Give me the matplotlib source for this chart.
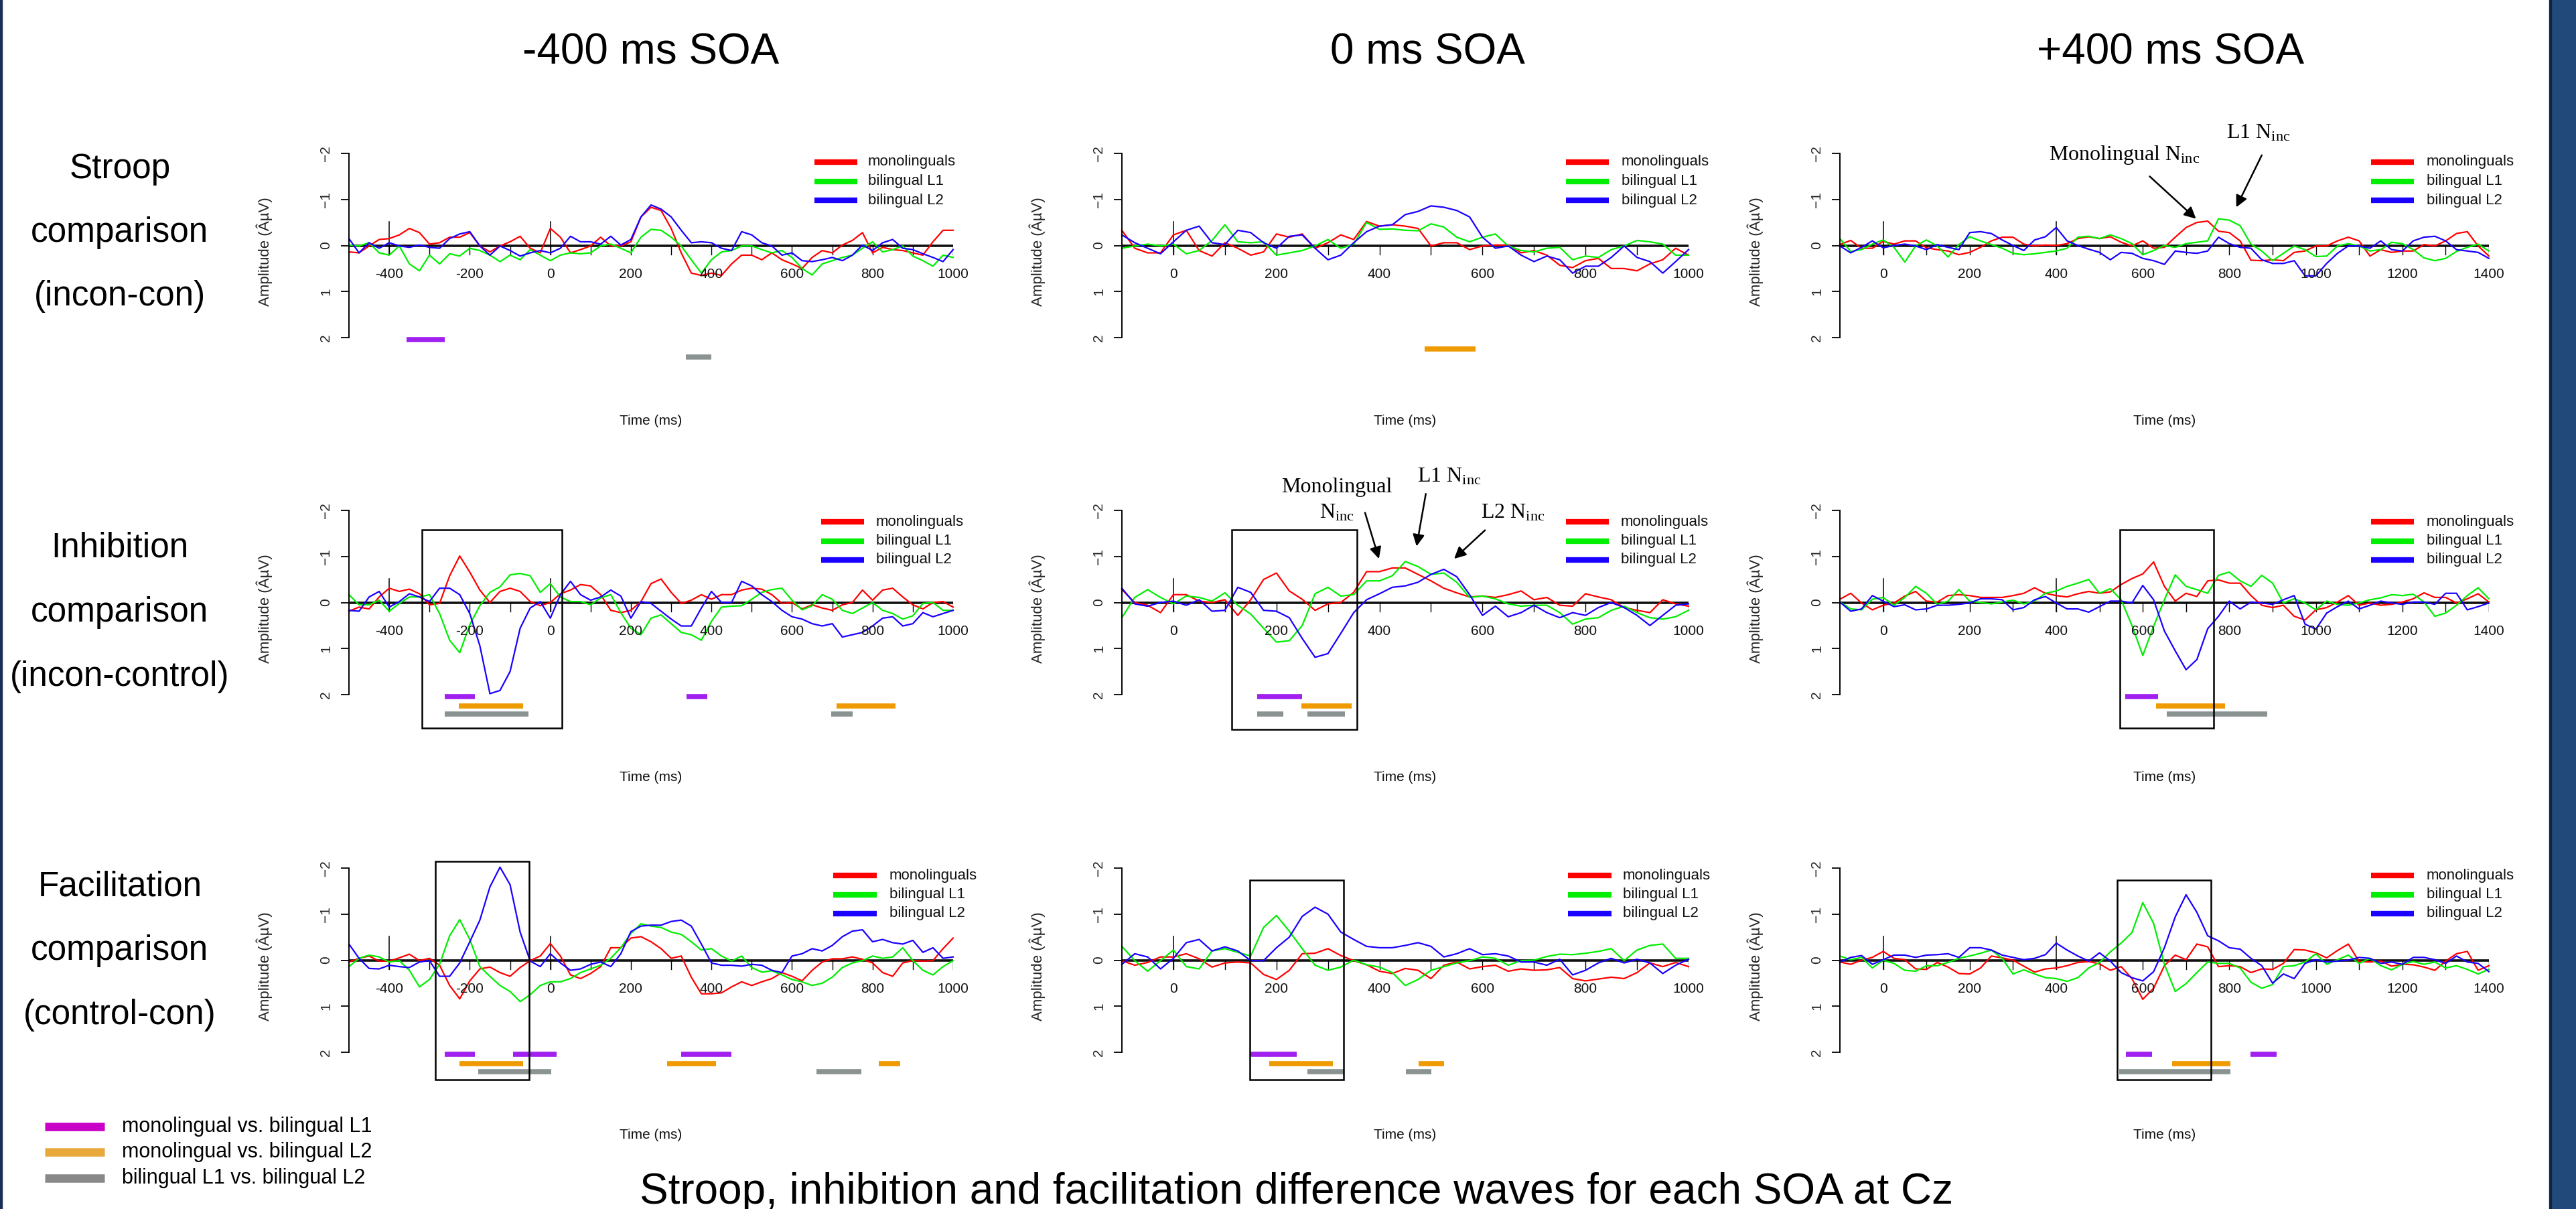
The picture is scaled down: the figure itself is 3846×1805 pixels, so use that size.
import numpy as np
import matplotlib
matplotlib.use('Agg')
import matplotlib.pyplot as plt
from matplotlib.patches import Rectangle

plt.rcParams['font.family'] = ['Liberation Sans', 'DejaVu Sans']
plt.rcParams['mathtext.fontset'] = 'custom'
plt.rcParams['mathtext.rm'] = 'Liberation Serif'
plt.rcParams['mathtext.it'] = 'Liberation Serif:italic'

# ---------------- data ----------------
col_titles = ['-400 ms SOA', '0 ms SOA', '+400 ms SOA']
row_titles = [['Stroop', 'comparison', '(incon-con)'],
              ['Inhibition', 'comparison', '(incon-control)'],
              ['Facilitation', 'comparison', '(control-con)']]
group_names = ['monolinguals', 'bilingual L1', 'bilingual L2']
comparison_names = ['monolingual vs. bilingual L1', 'monolingual vs. bilingual L2',
                    'bilingual L1 vs. bilingual L2']
caption = 'Stroop, inhibition and facilitation difference waves for each SOA at Cz'

time_m400 = np.arange(-500, 1001, 25)
time_0 = np.arange(-100, 1001, 25)
time_p400 = np.arange(-100, 1401, 25)

xtick_m400 = [-400, -200, 0, 200, 400, 600, 800, 1000]
xtick_0 = [0, 200, 400, 600, 800, 1000]
xtick_p400 = [0, 200, 400, 600, 800, 1000, 1200, 1400]
xticklab_m400 = ['-400', '-200', '0', '200', '400', '600', '800', '1000']
xticklab_0 = ['0', '200', '400', '600', '800', '1000']
xticklab_p400 = ['0', '200', '400', '600', '800', '1000', '1200', '1400']
ytick_vals = [-2, -1, 0, 1, 2]
ytick_labels = ['\u22122', '\u22121', '0', '1', '2']

# Stroop (incon-con)
stroop_m400_mono = [0.14, 0.16, 0.01, -0.13, -0.15, -0.23, -0.37, -0.28, -0.03, -0.06,
                    -0.18, -0.18, -0.28, 0.01, 0.14, 0.01, -0.08, -0.2, 0.06, 0.16,
                    -0.37, -0.18, 0.16, 0.09, 0.01, -0.18, 0.01, 0.01, -0.08, -0.62,
                    -0.83, -0.76, -0.37, 0.16, 0.6, 0.65, 0.6, 0.65, 0.4, 0.21,
                    0.21, 0.31, 0.16, 0.31, 0.4, 0.5, 0.26, 0.11, 0.16, -0.01,
                    -0.11, -0.28, 0.16, 0.04, 0.09, 0.11, 0.16, 0.21, -0.08, -0.33,
                    -0.33]
stroop_m400_L1 = [-0.01, 0.01, -0.06, 0.16, 0.21, 0.01, 0.4, 0.55, 0.21, 0.4,
                  0.18, 0.23, 0.06, 0.11, 0.21, 0.35, 0.21, 0.31, 0.09, 0.21,
                  0.33, 0.21, 0.16, 0.18, 0.16, 0.01, -0.03, 0.06, 0.16, -0.18,
                  -0.35, -0.33, -0.18, 0.01, 0.31, 0.6, 0.31, 0.14, 0.11, 0.01,
                  0.01, 0.09, 0.16, 0.11, 0.26, 0.5, 0.64, 0.4, 0.33, 0.26,
                  0.21, 0.06, -0.08, 0.14, 0.09, 0.01, 0.23, 0.33, 0.45, 0.21,
                  0.26]
stroop_m400_L2 = [-0.15, 0.16, -0.06, 0.06, -0.06, 0.01, 0.04, -0.01, 0.04, 0.06,
                  -0.15, -0.25, -0.3, 0.01, 0.21, 0.01, 0.11, 0.23, 0.16, 0.11,
                  0.16, 0.06, -0.2, -0.08, -0.08, -0.03, -0.2, -0.01, -0.13, -0.62,
                  -0.88, -0.79, -0.62, -0.33, -0.06, -0.08, -0.06, 0.06, 0.11, -0.3,
                  -0.23, -0.06, 0.01, 0.21, 0.16, 0.33, 0.35, 0.31, 0.26, 0.33,
                  0.21, -0.01, 0.11, -0.06, -0.13, 0.06, 0.09, 0.18, 0.26, 0.35,
                  0.09]
stroop_0_mono = [-0.33, 0.06, 0.16, 0.16, -0.23, -0.33, 0.11, 0.23, -0.06, 0.06,
                 0.21, 0.14, -0.25, -0.18, -0.25, 0.06, -0.06, -0.23, -0.13, -0.52,
                 -0.42, -0.45, -0.42, -0.37, 0.01, -0.06, -0.06, 0.09, 0.01, -0.01,
                 -0.01, 0.16, 0.11, 0.21, 0.43, 0.48, 0.33, 0.28, 0.5, 0.5,
                 0.55, 0.4, 0.31, 0.06, 0.21]
stroop_0_L1 = [0.06, 0.01, -0.03, 0.01, -0.03, 0.18, 0.11, -0.11, -0.45, -0.08,
               -0.06, -0.08, 0.21, 0.16, 0.11, 0.01, -0.13, 0.06, -0.03, -0.5,
               -0.35, -0.36, -0.33, -0.32, -0.47, -0.4, -0.18, -0.08, -0.18, -0.25,
               0.01, 0.11, 0.14, 0.06, 0.04, 0.31, 0.23, 0.26, 0.09, 0.01,
               -0.11, -0.08, -0.03, 0.21, 0.21]
stroop_0_L2 = [-0.23, -0.06, 0.06, 0.18, -0.08, -0.33, -0.42, -0.06, -0.02, -0.33,
               -0.28, -0.06, 0.06, -0.2, -0.23, 0.06, 0.31, 0.21, -0.06, -0.3,
               -0.42, -0.45, -0.67, -0.74, -0.86, -0.83, -0.76, -0.62, -0.18, 0.06,
               0.01, 0.21, 0.35, 0.23, 0.31, 0.6, 0.45, 0.45, 0.26, 0.01,
               0.26, 0.35, 0.6, 0.35, 0.09]
stroop_p400_mono = [-0.02, -0.11, 0.06, 0.06, -0.09, -0.03, -0.1, -0.1, 0.05, 0.09,
                    0.12, 0.2, 0.15, 0.04, -0.1, -0.18, -0.18, -0.03, 0.01, -0.01,
                    0.0, -0.04, -0.15, -0.19, -0.15, -0.19, -0.07, 0.01, -0.1, 0.06,
                    0.04, -0.18, -0.39, -0.5, -0.53, -0.31, -0.28, -0.1, 0.32, 0.33,
                    0.31, 0.33, 0.15, 0.12, 0.01, 0.01, -0.1, -0.18, -0.1, 0.23,
                    0.09, 0.15, 0.12, 0.12, -0.02, 0.01, -0.1, -0.26, -0.3, 0.01,
                    0.23]
stroop_p400_L1 = [-0.15, 0.13, 0.09, -0.03, -0.12, 0.04, 0.36, 0.01, -0.12, 0.01,
                  0.25, -0.02, -0.19, -0.1, -0.02, 0.06, 0.17, 0.2, 0.18, 0.15,
                  0.12, 0.06, -0.18, -0.2, -0.15, -0.23, -0.15, -0.04, 0.2, 0.11,
                  0.0, 0.04, -0.04, -0.07, -0.1, -0.58, -0.55, -0.43, -0.03, 0.12,
                  0.33, 0.17, 0.01, 0.09, 0.24, 0.23, 0.01, -0.04, 0.01, 0.12,
                  0.09, -0.07, -0.04, 0.09, 0.27, 0.33, 0.28, 0.13, 0.04, -0.03,
                  0.12]
stroop_p400_L2 = [0.01, 0.16, 0.04, -0.1, 0.05, 0.0, -0.03, 0.01, 0.09, -0.02,
                  0.04, 0.09, -0.28, -0.3, -0.26, -0.12, 0.0, 0.11, -0.12, -0.19,
                  -0.39, -0.1, 0.0, 0.08, 0.15, 0.31, 0.15, 0.17, 0.28, 0.33,
                  0.41, 0.12, 0.15, 0.17, 0.12, -0.18, -0.04, 0.04, 0.06, 0.31,
                  0.39, 0.39, 0.33, 0.66, 0.66, 0.39, 0.17, 0.01, 0.01, 0.06,
                  -0.1, 0.09, 0.12, -0.1, -0.18, -0.2, -0.1, 0.09, 0.12, 0.15,
                  0.28]

# Inhibition (incon-control)
inhib_m400_mono = [0.19, 0.1, 0.14, -0.12, -0.31, -0.24, -0.29, -0.19, 0.05, 0.02,
                   -0.58, -1.01, -0.66, -0.27, 0.0, -0.24, -0.31, -0.24, -0.02, 0.07,
                   0.0, -0.19, -0.27, -0.39, -0.36, -0.17, 0.17, 0.22, 0.17, -0.02,
                   -0.41, -0.51, -0.22, 0.02, -0.05, -0.17, -0.07, -0.17, -0.17, -0.27,
                   -0.31, -0.29, -0.17, 0.02, 0.0, 0.14, 0.05, 0.12, 0.17, 0.05,
                   0.0, -0.27, -0.05, -0.27, -0.31, -0.12, 0.05, 0.14, 0.0, -0.02,
                   0.1]
inhib_m400_L1 = [-0.17, 0.05, 0.05, -0.05, 0.19, 0.02, -0.12, -0.12, -0.17, 0.24,
                 0.82, 1.09, 0.48, 0.07, -0.22, -0.34, -0.6, -0.63, -0.58, -0.22,
                 -0.41, -0.12, -0.02, -0.02, 0.05, -0.1, -0.17, 0.22, 0.56, 0.7,
                 0.34, 0.27, 0.46, 0.65, 0.7, 0.82, 0.41, 0.1, 0.08, 0.07,
                 -0.07, -0.22, -0.28, -0.31, -0.05, 0.16, 0.07, -0.17, -0.07, 0.17,
                 0.24, 0.12, 0.0, 0.17, 0.24, 0.36, 0.29, 0.02, 0.0, 0.17,
                 0.17]
inhib_m400_L2 = [0.17, 0.19, -0.12, -0.24, 0.1, -0.02, -0.19, -0.12, -0.02, -0.31,
                 -0.31, -0.17, 0.24, 0.94, 1.98, 1.91, 1.5, 0.56, 0.12, -0.02,
                 0.34, -0.17, -0.46, -0.17, -0.05, -0.12, -0.27, -0.14, 0.34, -0.02,
                 0.02, 0.19, 0.36, 0.51, 0.51, 0.12, -0.24, 0.0, 0.0, -0.46,
                 -0.36, -0.17, -0.02, 0.17, 0.31, 0.36, 0.46, 0.51, 0.46, 0.75,
                 0.7, 0.65, 0.51, 0.34, 0.31, 0.51, 0.46, 0.22, 0.31, 0.24,
                 0.17]
inhib_0_mono = [-0.28, 0.0, 0.06, 0.22, -0.17, -0.17, -0.03, 0.0, -0.06, 0.28,
                -0.06, -0.5, -0.64, -0.25, -0.07, 0.17, 0.03, 0.0, -0.22, -0.67,
                -0.67, -0.75, -0.75, -0.61, -0.47, -0.31, -0.21, -0.12, -0.14, -0.11,
                -0.17, -0.25, -0.06, -0.11, 0.06, 0.08, -0.19, -0.12, -0.06, 0.11,
                0.17, 0.22, -0.06, 0.03, 0.08]
inhib_0_L1 = [0.33, -0.11, -0.28, -0.11, 0.03, -0.14, -0.11, -0.03, -0.21, 0.06,
              0.25, 0.56, 0.86, 0.83, 0.5, -0.19, -0.33, -0.14, -0.17, -0.47,
              -0.47, -0.58, -0.89, -0.78, -0.61, -0.64, -0.44, -0.11, -0.14, -0.08,
              0.03, 0.08, 0.06, 0.06, 0.22, 0.47, 0.36, 0.33, 0.17, 0.08,
              0.22, 0.33, 0.36, 0.31, 0.17]
inhib_0_L2 = [-0.31, 0.03, 0.08, 0.0, -0.03, 0.06, -0.06, 0.19, 0.17, -0.33,
              -0.22, 0.17, 0.19, 0.33, 0.78, 1.19, 1.11, 0.67, 0.22, -0.06,
              -0.19, -0.33, -0.36, -0.44, -0.61, -0.72, -0.56, -0.17, 0.28, 0.08,
              0.31, 0.22, 0.06, 0.22, 0.33, 0.22, 0.28, 0.11, 0.0, 0.11,
              0.28, 0.5, 0.28, 0.06, 0.03]
inhib_p400_mono = [-0.07, -0.2, 0.01, 0.16, 0.06, 0.01, -0.14, -0.24, -0.03, -0.01,
                   -0.15, -0.17, -0.15, -0.11, -0.11, -0.11, -0.15, -0.2, -0.32, -0.2,
                   -0.15, -0.12, -0.19, -0.24, -0.2, -0.23, -0.39, -0.52, -0.62, -0.88,
                   -0.35, -0.03, -0.2, -0.13, -0.47, -0.49, -0.42, -0.42, -0.15, 0.06,
                   0.11, 0.06, 0.3, 0.38, 0.16, 0.11, -0.01, -0.15, 0.06, 0.01,
                   0.06, 0.04, -0.01, -0.08, -0.21, -0.11, -0.11, 0.01, -0.08, -0.19,
                   -0.01]
inhib_p400_L1 = [-0.01, 0.14, 0.16, -0.07, -0.11, 0.06, -0.11, -0.35, -0.2, 0.04,
                 -0.03, -0.28, -0.03, 0.0, 0.03, -0.01, -0.05, 0.03, -0.03, -0.2,
                 -0.25, -0.35, -0.42, -0.5, -0.2, -0.3, -0.06, 0.5, 1.15, 0.52,
                 -0.06, -0.6, -0.35, -0.28, -0.2, -0.59, -0.66, -0.47, -0.35, -0.59,
                 -0.42, 0.01, -0.08, 0.01, 0.16, -0.03, 0.04, 0.06, 0.01, -0.06,
                 -0.1, -0.17, -0.15, -0.18, -0.01, 0.3, 0.23, 0.06, -0.15, -0.32,
                 -0.08]
inhib_p400_L2 = [-0.01, 0.19, 0.14, -0.15, -0.03, 0.09, 0.05, 0.16, 0.14, 0.06,
                 0.06, 0.04, 0.01, -0.08, -0.08, -0.06, 0.16, 0.11, -0.06, -0.13,
                 0.01, 0.14, 0.14, 0.21, 0.09, -0.03, -0.03, 0.01, -0.37, -0.06,
                 0.62, 1.05, 1.46, 1.24, 0.57, 0.3, -0.03, 0.14, -0.01, 0.01,
                 0.04, -0.06, -0.15, 0.47, 0.58, 0.23, 0.09, -0.03, 0.14, 0.06,
                 -0.03, 0.01, 0.04, -0.01, -0.01, 0.04, -0.2, -0.2, 0.16, 0.09,
                 0.01]

# Facilitation (control-con)
facil_m400_mono = [0.04, -0.04, -0.09, 0.02, 0.02, -0.05, -0.13, 0.01, -0.04, 0.11,
                   0.55, 0.84, 0.45, 0.19, 0.15, 0.27, 0.35, 0.16, 0.01, -0.09,
                   -0.36, -0.09, 0.32, 0.4, 0.29, 0.14, -0.27, -0.27, -0.48, -0.51,
                   -0.4, -0.25, -0.04, -0.09, 0.37, 0.73, 0.73, 0.71, 0.58, 0.47,
                   0.55, 0.47, 0.4, 0.27, 0.35, 0.45, 0.22, 0.04, -0.03, -0.03,
                   -0.07, -0.02, 0.06, 0.27, 0.35, 0.06, 0.01, 0.02, 0.01, -0.25,
                   -0.48]
facil_m400_L1 = [0.14, -0.04, -0.11, -0.07, 0.04, 0.01, 0.22, 0.58, 0.42, 0.09,
                 -0.53, -0.88, -0.45, 0.14, 0.35, 0.55, 0.68, 0.9, 0.75, 0.55,
                 0.47, 0.47, 0.4, 0.27, 0.19, 0.11, -0.04, -0.27, -0.58, -0.79,
                 -0.74, -0.71, -0.61, -0.56, -0.4, -0.22, -0.25, -0.09, 0.02, -0.09,
                 0.16, 0.26, 0.23, 0.32, 0.42, 0.47, 0.55, 0.5, 0.37, 0.16,
                 0.06, 0.01, -0.09, -0.04, -0.07, -0.27, 0.01, 0.22, 0.32, 0.14,
                 0.01]
facil_m400_L2 = [-0.35, -0.04, 0.18, 0.19, 0.11, 0.14, 0.16, 0.04, 0.01, 0.35,
                 0.35, 0.06, -0.4, -0.87, -1.59, -2.02, -1.64, -0.61, 0.02, 0.14,
                 -0.14, 0.06, 0.22, 0.19, 0.09, 0.04, 0.14, -0.14, -0.62, -0.74,
                 -0.76, -0.76, -0.84, -0.87, -0.74, -0.35, 0.06, 0.11, 0.11, 0.13,
                 0.09, 0.11, 0.22, 0.27, -0.09, -0.14, -0.25, -0.2, -0.32, -0.51,
                 -0.63, -0.66, -0.4, -0.45, -0.38, -0.35, -0.43, -0.17, -0.27, -0.04,
                 -0.07]
facil_0_mono = [0.01, 0.11, 0.05, -0.07, -0.07, -0.14, -0.03, 0.15, 0.06, 0.04,
                0.06, 0.31, 0.42, 0.22, -0.14, -0.15, -0.25, -0.1, 0.01, 0.1,
                0.24, 0.29, 0.18, 0.22, 0.4, 0.11, 0.04, 0.19, 0.14, 0.11,
                0.24, 0.19, 0.22, 0.21, 0.16, 0.4, 0.45, 0.41, 0.37, 0.4,
                0.27, 0.06, 0.14, 0.05, 0.14]
facil_0_L1 = [-0.3, 0.01, 0.24, 0.01, -0.22, 0.14, 0.19, -0.2, -0.25, -0.17,
              -0.09, -0.71, -0.97, -0.63, -0.25, 0.11, 0.22, 0.15, 0.0, 0.1,
              0.15, 0.27, 0.55, 0.42, 0.22, 0.14, 0.06, 0.01, -0.07, -0.04,
              0.11, 0.01, 0.0, -0.08, -0.13, -0.12, -0.15, -0.19, -0.25, 0.01,
              -0.22, -0.32, -0.35, -0.04, -0.04]
facil_0_L2 = [0.09, -0.14, -0.07, 0.19, -0.04, -0.38, -0.45, -0.2, -0.29, -0.2,
              0.01, 0.01, -0.27, -0.5, -0.95, -1.15, -1.0, -0.61, -0.45, -0.3,
              -0.27, -0.27, -0.32, -0.38, -0.3, -0.07, -0.14, -0.25, -0.12, -0.14,
              -0.09, 0.04, 0.04, 0.11, -0.02, 0.32, 0.22, 0.06, -0.04, 0.06,
              -0.02, 0.06, 0.29, 0.11, -0.02]
facil_p400_mono = [0.04, 0.09, 0.0, -0.06, -0.19, -0.04, -0.01, 0.19, 0.2, 0.05,
                   0.15, 0.29, 0.3, 0.17, -0.09, -0.05, 0.0, 0.13, 0.26, 0.19,
                   0.17, 0.12, 0.05, 0.03, 0.08, 0.22, 0.14, 0.4, 0.85, 0.61,
                   0.12, -0.11, -0.01, -0.35, -0.29, 0.14, 0.12, 0.14, 0.27, 0.19,
                   0.2, 0.07, -0.23, -0.22, -0.16, -0.05, -0.21, -0.35, 0.03, 0.04,
                   0.02, 0.13, 0.09, 0.1, 0.15, 0.22, 0.02, -0.14, -0.19, 0.22,
                   0.12]
facil_p400_L1 = [-0.09, -0.01, -0.06, 0.17, 0.0, 0.07, 0.22, 0.24, 0.12, 0.12,
                 0.05, -0.04, -0.09, -0.15, -0.22, -0.04, 0.3, 0.21, 0.3, 0.38,
                 0.4, 0.46, 0.38, 0.17, 0.05, -0.18, -0.37, -0.6, -1.25, -0.8,
                 0.09, 0.68, 0.51, 0.27, 0.04, 0.07, 0.07, 0.17, 0.48, 0.61,
                 0.53, 0.14, 0.12, 0.04, -0.14, 0.09, -0.01, -0.11, 0.07, -0.04,
                 0.12, 0.21, 0.09, 0.03, 0.09, 0.04, 0.17, 0.12, 0.2, 0.3,
                 0.2]
facil_p400_L2 = [0.04, -0.06, -0.1, 0.09, -0.01, -0.11, -0.11, -0.06, -0.11, -0.12,
                 -0.14, -0.06, -0.27, -0.27, -0.22, -0.11, -0.06, -0.01, -0.04, -0.12,
                 -0.37, -0.22, -0.09, 0.02, -0.16, 0.02, 0.27, 0.38, 0.45, 0.25,
                 -0.27, -0.94, -1.42, -1.04, -0.53, -0.42, -0.27, -0.24, -0.04, 0.12,
                 0.5, 0.3, 0.4, 0.07, -0.01, 0.04, 0.02, 0.0, -0.06, -0.04,
                 0.07, 0.04, 0.09, -0.06, -0.06, -0.01, 0.07, -0.09, 0.04, 0.07,
                 0.25]

# significant intervals (ms): mono vs L1, mono vs L2, L1 vs L2
sig_stroop_m400 = [[(-357, -262)], [], [(336, 399)]]
sig_stroop_0 = [[], [(488, 586)], []]
sig_stroop_p400 = [[], [], []]
sig_inhib_m400 = [[(-262, -188), (338, 390)], [(-227, -67), (711, 857)], [(-262, -55), (698, 750)]]
sig_inhib_0 = [[(162, 250)], [(248, 346)], [(162, 213), (260, 333)]]
sig_inhib_p400 = [[(560, 635)], [(631, 790)], [(656, 887)]]
sig_facil_m400 = [[(-263, -188), (-93, 16), (325, 449)], [(-226, -67), (290, 412), (815, 868)],
                  [(-179, 3), (661, 772)]]
sig_facil_0 = [[(150, 239)], [(186, 309), (476, 525)], [(260, 331), (451, 501)]]
sig_facil_p400 = [[(561, 622), (849, 910)], [(668, 803)], [(546, 803)]]

# highlighted windows (ms, uV)
box_inhib_m400 = (-318, 28, -1.575, 2.73)
box_inhib_0 = (113, 357, -1.575, 2.75)
box_inhib_p400 = (547, 764, -1.575, 2.73)
box_facil_m400 = (-285, -53, -2.14, 2.59)
box_facil_0 = (148, 330, -1.735, 2.59)
box_facil_p400 = (541, 757, -1.735, 2.59)

# ---------------- assemble ----------------
times = [time_m400, time_0, time_p400]
xlims = [(-500, 1000), (-100, 1000), (-100, 1400)]
xticks = [xtick_m400, xtick_0, xtick_p400]
xticklabs = [xticklab_m400, xticklab_0, xticklab_p400]
onsets = [[-400, 0], [0], [0, 400]]
waves = [[[stroop_m400_mono, stroop_m400_L1, stroop_m400_L2],
          [stroop_0_mono, stroop_0_L1, stroop_0_L2],
          [stroop_p400_mono, stroop_p400_L1, stroop_p400_L2]],
         [[inhib_m400_mono, inhib_m400_L1, inhib_m400_L2],
          [inhib_0_mono, inhib_0_L1, inhib_0_L2],
          [inhib_p400_mono, inhib_p400_L1, inhib_p400_L2]],
         [[facil_m400_mono, facil_m400_L1, facil_m400_L2],
          [facil_0_mono, facil_0_L1, facil_0_L2],
          [facil_p400_mono, facil_p400_L1, facil_p400_L2]]]
sigs = [[sig_stroop_m400, sig_stroop_0, sig_stroop_p400],
        [sig_inhib_m400, sig_inhib_0, sig_inhib_p400],
        [sig_facil_m400, sig_facil_0, sig_facil_p400]]
boxes = [[None, None, None],
         [box_inhib_m400, box_inhib_0, box_inhib_p400],
         [box_facil_m400, box_facil_0, box_facil_p400]]

wave_colors = ['#ff0000', '#00ee00', '#1a00ff']
sig_colors = ['#a020f0', '#ee9a00', '#8a9292']
sig_levels = [2.04, 2.25, 2.42]
key_colors = ['#c800c8', '#e8a83c', '#888888']

# layout in figure pixels
W, H = 3846, 1805
col_left = [521, 1675, 2747]
col_right = [1423, 2521, 3716]
row_top = [229, 762, 1296]
AX_H = 275
leg_x = [[(1216, 1280, 1296), (2338, 2402, 2421), (3540, 3604, 3623)],
         [(1226, 1290, 1308), (2338, 2402, 2420), (3540, 3604, 3623)],
         [(1244, 1309, 1328), (2341, 2406, 2423), (3540, 3604, 3623)]]
leg_y0 = [13, 17, 11]

fig = plt.figure(figsize=(W / 100, H / 100), dpi=100)
fig.patch.set_facecolor('white')


def fx(px):
    return px / W


def fy(py):
    return 1 - py / H


def px2data(r, c, px, py):
    x0, x1 = xlims[c]
    t = x0 + (px - col_left[c]) / (col_right[c] - col_left[c]) * (x1 - x0)
    v = -2 + (py - row_top[r]) / AX_H * 4
    return t, v


axes = {}
for r in range(3):
    for c in range(3):
        L, R, T = col_left[c], col_right[c], row_top[r]
        ax = fig.add_axes([fx(L), fy(T + AX_H), (R - L) / W, AX_H / H])
        axes[(r, c)] = ax
        ax.set_xlim(*xlims[c])
        ax.set_ylim(2, -2)
        ax.patch.set_alpha(0)
        for s in ['top', 'right', 'bottom']:
            ax.spines[s].set_visible(False)
        ax.spines['left'].set_bounds(-2, 2)
        ax.spines['left'].set_linewidth(1.4)
        ax.set_xticks([])
        ax.set_yticks(ytick_vals)
        ax.set_yticklabels(ytick_labels, rotation=90, va='center', fontsize=15, color='#222222')
        ax.tick_params(axis='y', length=9, width=1.3, pad=9)

        # zero line, ticks
        ax.plot(xlims[c], [0, 0], color='#111111', lw=2.6, zorder=1.5, solid_capstyle='butt')
        for t in range(int(np.ceil((xlims[c][0] + 1) / 100) * 100), xlims[c][1] + 1, 100):
            ax.plot([t, t], [0, 0.2], color='black', lw=1.0, zorder=1.5)
        for t in onsets[c]:
            ax.plot([t, t], [-0.52, 0.2], color='black', lw=1.1, zorder=1.5)
        for t, lab in zip(xticks[c], xticklabs[c]):
            ax.text(t, 0.62, lab, ha='center', va='center', fontsize=15, color='#111111')

        # waves
        for g in range(3):
            ax.plot(times[c], waves[r][c][g], color=wave_colors[g], lw=1.6, zorder=2, clip_on=False)

        # significance bars
        for k in range(3):
            for (a, b) in sigs[r][c][k]:
                ax.plot([a, b], [sig_levels[k], sig_levels[k]], color=sig_colors[k], lw=5.5,
                        solid_capstyle='butt', clip_on=False)

        # box
        if boxes[r][c] is not None:
            x0, x1, y0, y1 = boxes[r][c]
            ax.add_patch(Rectangle((x0, y0), x1 - x0, y1 - y0, fill=False, lw=1.8,
                                   ec='black', clip_on=False, zorder=3))

        # legend
        lx0, lx1, tx = leg_x[r][c]
        for g in range(3):
            py = T + leg_y0[r] + 28.5 * g
            t0, v = px2data(r, c, lx0, py)
            t1, _ = px2data(r, c, lx1, py)
            tt, _ = px2data(r, c, tx, py)
            ax.plot([t0, t1], [v, v], color=wave_colors[g], lw=6, solid_capstyle='butt', clip_on=False)
            ax.text(tt, v, group_names[g], fontsize=16, va='center', ha='left', color='#111111')

        # axis labels
        fig.text(fx(L - 126), fy(T + 147), 'Amplitude (\u00c2\u00b5V)', rotation=90,
                 ha='center', va='center', fontsize=16, color='#222222')
        fig.text(fx((L + R) / 2), fy(T + AX_H + 124), 'Time (ms)', ha='center', va='center',
                 fontsize=15, color='#111111')

# annotations (Times-like)
serif = ['Liberation Serif', 'DejaVu Serif']
ax = axes[(0, 2)]
ax.text(557, -1.96, r'Monolingual N$_{\rm inc}$', family=serif, fontsize=23, ha='center', va='center')
ax.text(867, -2.44, r'L1 N$_{\rm inc}$', family=serif, fontsize=23, ha='center', va='center')
arr = dict(arrowstyle='-|>', color='black', lw=1.8, mutation_scale=26, shrinkA=0, shrinkB=0)
ax.annotate('', xy=(723, -0.58), xytext=(616, -1.5), arrowprops=arr, annotation_clip=False)
ax.annotate('', xy=(816, -0.83), xytext=(875, -1.96), arrowprops=arr, annotation_clip=False)

ax = axes[(1, 1)]
ax.text(317, -2.5, 'Monolingual', family=serif, fontsize=23, ha='center', va='center')
ax.text(317, -1.95, r'N$_{\rm inc}$', family=serif, fontsize=23, ha='center', va='center')
ax.text(536, -2.73, r'L1 N$_{\rm inc}$', family=serif, fontsize=23, ha='center', va='center')
ax.text(659, -1.95, r'L2 N$_{\rm inc}$', family=serif, fontsize=23, ha='center', va='center')
ax.annotate('', xy=(399, -0.95), xytext=(372, -1.95), arrowprops=arr, annotation_clip=False)
ax.annotate('', xy=(472, -1.22), xytext=(490, -2.36), arrowprops=arr, annotation_clip=False)
ax.annotate('', xy=(545, -0.95), xytext=(605, -1.57), arrowprops=arr, annotation_clip=False)

# column headers
col_centers = [972, 2131, 3241]
for c in range(3):
    fig.text(fx(col_centers[c]), fy(95), col_titles[c], ha='center', va='baseline', fontsize=46)

# row labels
row_baselines = [[266, 361, 456], [832, 928, 1024], [1338, 1433, 1529]]
for r in range(3):
    for k in range(3):
        fig.text(fx(179), fy(row_baselines[r][k]), row_titles[r][k], ha='center', va='baseline',
                 fontsize=37)

# key for significance bars
key_y = [1682, 1720, 1759]
for k in range(3):
    fig.add_artist(plt.Line2D([fx(67), fx(156)], [fy(key_y[k]), fy(key_y[k])], color=key_colors[k],
                              lw=9, solid_capstyle='butt', transform=fig.transFigure))
    fig.text(fx(182), fy(key_y[k]), comparison_names[k], ha='left', va='center', fontsize=22)

# caption
fig.text(fx(1935), fy(1797), caption, ha='center', va='baseline', fontsize=46)

# poster borders
fig.add_artist(Rectangle((fx(3808), 0), fx(W - 3808), 1, transform=fig.transFigure,
                         color='#21497a', zorder=10))
fig.add_artist(Rectangle((fx(3806), 0), fx(3), 1, transform=fig.transFigure,
                         color='#0f2344', zorder=10))
fig.add_artist(Rectangle((0, 0), fx(3), 1, transform=fig.transFigure, color='#1c2d55', zorder=10))

fig.savefig('out.png', dpi=100, facecolor='white')
